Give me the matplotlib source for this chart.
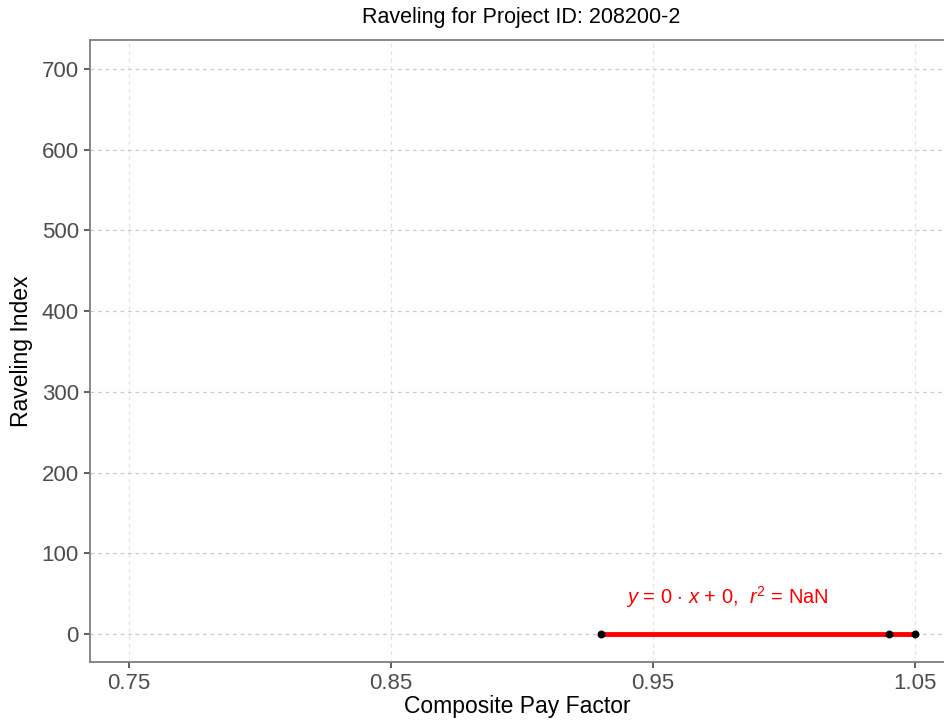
import matplotlib
matplotlib.use('Agg')
import matplotlib.pyplot as plt
import numpy as np

plt.rcParams['font.family'] = ['Liberation Sans', 'DejaVu Sans']
plt.rcParams['mathtext.fontset'] = 'custom'
plt.rcParams['mathtext.rm'] = 'Liberation Sans'
plt.rcParams['mathtext.it'] = 'Liberation Sans:italic'

# data
pay_factor = [0.93, 1.04, 1.05]
raveling = [0, 0, 0]
x_ticks = [0.75, 0.85, 0.95, 1.05]
y_ticks = [0, 100, 200, 300, 400, 500, 600, 700]
eq_label = r'$y$ = 0 $\cdot$ $x$ + 0,  $r^2$ = NaN'

fig = plt.figure(figsize=(9.45, 7.21), dpi=100)
ax = fig.add_axes([90/945, 1-662/721, 855/945, (662-40)/721])

# fitted line (slope 0, intercept 0) over the data range
fit_x = np.array([min(pay_factor), max(pay_factor)])
fit_y = 0 * fit_x + 0
ax.plot(fit_x, fit_y, color='red', lw=3.5, zorder=3, solid_capstyle='butt')
ax.scatter(pay_factor, raveling, s=22, color='black', zorder=4)

ax.text(0.9397, 46, eq_label, color='red', fontsize=14.5, ha='left', va='center')

ax.set_xlim(0.7351, 0.7351 + 855 / 2620)
ax.set_ylim(-34.7, 736)
ax.set_xticks(x_ticks)
ax.set_xticklabels(['0.75', '0.85', '0.95', '1.05'])
ax.set_yticks(y_ticks)

ax.grid(True, which='major', axis='y', color='#cccccc', ls=(0, (3, 3)), lw=0.9)
ax.grid(True, which='major', axis='x', color='#e3e3e3', ls=(0, (3, 3)), lw=0.9)
ax.set_axisbelow(True)

for side in ['left', 'bottom', 'top']:
    ax.spines[side].set_color('#7f7f7f')
    ax.spines[side].set_linewidth(1.3)
ax.spines['right'].set_visible(False)

ax.tick_params(axis='both', colors='#333333', labelcolor='#4d4d4d', labelsize=16,
               length=4, width=1.1, pad=4)

ax.set_xlabel('Composite Pay Factor', fontsize=16.5, color='black', labelpad=1)
ax.set_ylabel('Raveling Index', fontsize=16.5, color='black', labelpad=6)
fig.text(521/945, 1 - 18/721, 'Raveling for Project ID: 208200-2', fontsize=15.5,
         ha='center', va='center')

fig.savefig('out.png', dpi=100)
